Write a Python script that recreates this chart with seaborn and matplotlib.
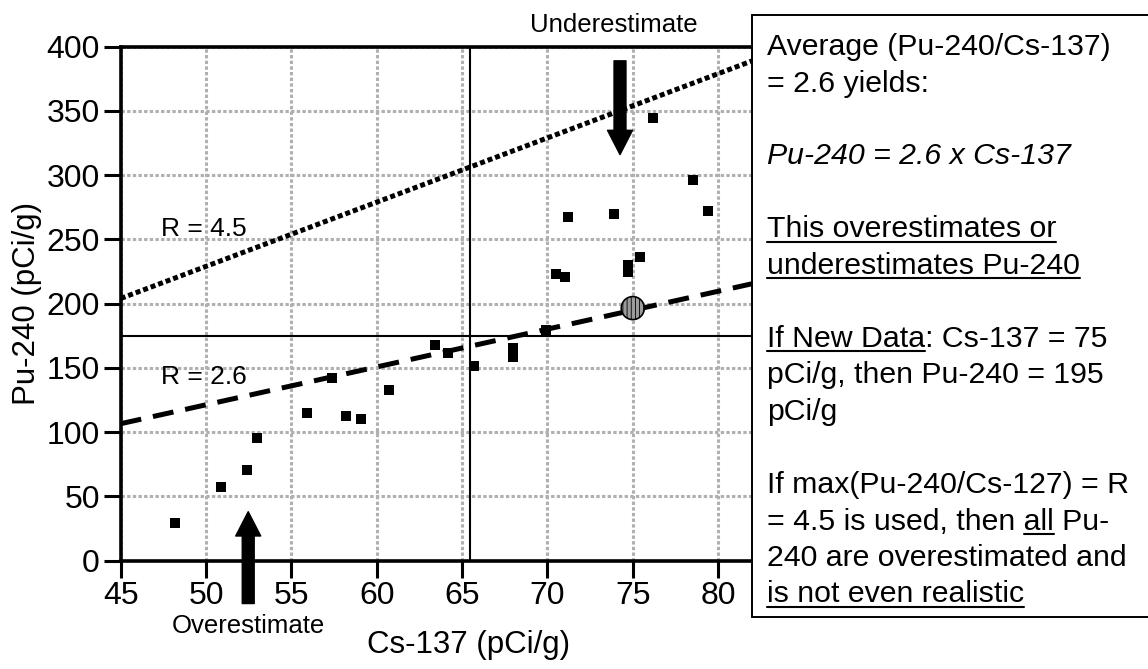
import matplotlib
matplotlib.use("Agg")
import matplotlib.pyplot as plt
import matplotlib.patches as mpatches
from matplotlib.lines import Line2D
import numpy as np
import pandas as pd
import seaborn as sns

# =========================
# DATA
# =========================
cs_137 = [48.2, 50.9, 52.4, 53.0, 55.9, 57.4, 58.2, 59.1, 60.7, 63.4, 64.2, 65.7,
          68.0, 68.0, 69.9, 70.5, 71.0, 71.2, 73.9, 74.7, 74.7, 75.4, 76.2, 78.5, 79.4]
pu_240 = [28.9, 57.3, 70.8, 95.3, 114.7, 141.8, 112.6, 110.3, 132.8, 168.0, 161.2, 151.8,
          165.4, 158.6, 179.3, 223.3, 220.9, 267.5, 269.4, 229.8, 224.8, 236.5, 344.8, 296.0, 271.9]

new_cs = [75.0]
new_pu = [196.5]

line_x = [45, 82]
avg_line_y = [106.5, 215.5]   # R = 2.6
max_line_y = [204.0, 389.0]   # R = 4.5

split_cs = 65.45
split_pu = 175

x_ticks = [45, 50, 55, 60, 65, 70, 75, 80]
y_ticks = [0, 50, 100, 150, 200, 250, 300, 350, 400]

box_lines = [
    "Average (Pu-240/Cs-137)",
    "= 2.6 yields:",
    "",
    "Pu-240 = 2.6 x Cs-137",
    "",
    "This overestimates or",
    "underestimates Pu-240",
    "",
    "If New Data: Cs-137 = 75",
    "pCi/g, then Pu-240 = 195",
    "pCi/g",
    "",
    "If max(Pu-240/Cs-127) = R",
    "= 4.5 is used, then all Pu-",
    "240 are overestimated and",
    "is not even realistic",
]
# (line index, prefix before the underlined word, underlined word)
underlines = [
    (5, "", "This overestimates or"),
    (6, "", "underestimates Pu-240"),
    (8, "", "If New Data"),
    (13, "= 4.5 is used, then ", "all"),
    (15, "", "is not even realistic"),
]
italic_lines = [3]

# =========================
# FIGURE
# =========================
W, H = 1148, 669
sns.set_theme(style="white")
plt.rcParams["font.family"] = ["Liberation Sans", "DejaVu Sans"]
plt.rcParams["text.color"] = "black"
plt.rcParams["axes.labelcolor"] = "black"
plt.rcParams["xtick.color"] = "black"
plt.rcParams["ytick.color"] = "black"
plt.rcParams["hatch.linewidth"] = 0.6
plt.rcParams["hatch.color"] = "black"

fig = plt.figure(figsize=(W / 100, H / 100), dpi=100)
ax = fig.add_axes([120.7 / W, 1 - 560.5 / H, 631.6 / W, 513.8 / H])

ax.grid(True, color="#b0b0b0", linewidth=2.2, linestyle=(0, (1.1, 0.75)))
ax.set_axisbelow(True)

ax.axvline(split_cs, color="black", lw=1.5, zorder=2)
ax.axhline(split_pu, color="black", lw=1.5, zorder=2)

ax.plot(line_x, max_line_y, color="black", lw=3.6, linestyle=(0, (1.0, 0.6)),
        dash_capstyle="butt", zorder=3)
ax.plot(line_x, avg_line_y, color="black", lw=3.6, linestyle=(0, (4.2, 2.4)),
        dash_capstyle="butt", zorder=3)

df = pd.DataFrame({"cs": cs_137, "pu": pu_240})
sns.scatterplot(data=df, x="cs", y="pu", marker="s", s=42, color="black",
                linewidth=0, ax=ax, zorder=4, legend=False)

sns.scatterplot(x=new_cs, y=new_pu, s=275, color="#9b9b9b", edgecolor="black",
                linewidth=1.2, hatch="||||", ax=ax, zorder=5, legend=False)

ax.set_xlim(45, 82)
ax.set_ylim(0, 400)
ax.set_xticks(x_ticks)
ax.set_yticks(y_ticks)
ax.tick_params(axis="both", which="major", direction="out", length=12, width=2.2,
               pad=3, labelsize=23, colors="black", left=True, bottom=True)
for side in ["left", "bottom", "top"]:
    ax.spines[side].set_linewidth(2.6)
    ax.spines[side].set_color("black")
ax.spines["right"].set_visible(False)

ax.set_xlabel("Cs-137 (pCi/g)", fontsize=22.5)
ax.xaxis.set_label_coords(0.55, -0.135)
ax.set_ylabel("Pu-240 (pCi/g)", fontsize=22.5)
ax.yaxis.set_label_coords(-0.125, 0.5)

ax.text(47.34, 258, "R = 4.5", fontsize=19, va="center", ha="left", zorder=6)
ax.text(47.34, 142.5, "R = 2.6", fontsize=19, va="center", ha="left", zorder=6)
ax.text(73.9, 417, "Underestimate", fontsize=18.5, va="center", ha="center", clip_on=False)
ax.text(52.47, -51, "Overestimate", fontsize=18.5, va="center", ha="center", clip_on=False)

arrow_style = "simple,head_length=1.75,head_width=1.8,tail_width=0.86"
ax.annotate("", xy=(74.25, 316), xytext=(74.25, 389), annotation_clip=False,
            arrowprops=dict(arrowstyle=arrow_style, mutation_scale=10, color="black",
                            shrinkA=0, shrinkB=0))
ax.annotate("", xy=(52.47, 38), xytext=(52.47, -33.5), annotation_clip=False,
            arrowprops=dict(arrowstyle=arrow_style, mutation_scale=10, color="black",
                            shrinkA=0, shrinkB=0))

# =========================
# TEXT BOX
# =========================
box = mpatches.Rectangle((752 / W, 1 - 617 / H), 0.5, (617 - 15) / H,
                         transform=fig.transFigure, facecolor="white",
                         edgecolor="black", lw=1.4, zorder=5)
fig.add_artist(box)

text_x = 767
first_base = 55
line_step = 36.5
box_texts = {}
for i, line in enumerate(box_lines):
    if not line:
        continue
    base = first_base + i * line_step
    t = fig.text(text_x / W, 1 - base / H, line, fontsize=21.8, ha="left", va="baseline",
                 style="italic" if i in italic_lines else "normal", zorder=6)
    box_texts[i] = (t, base)

fig.canvas.draw()
renderer = fig.canvas.get_renderer()
for i, prefix, word in underlines:
    t, base = box_texts[i]
    prop = t.get_fontproperties()
    x0 = t.get_window_extent(renderer).x0
    w_full = renderer.get_text_width_height_descent(prefix + word, prop, ismath=False)[0]
    w_word = renderer.get_text_width_height_descent(word, prop, ismath=False)[0]
    start = x0 + (w_full - w_word if prefix else 0)
    end = x0 + w_full
    y = H - base - 4
    fig.add_artist(Line2D([start / W, end / W], [y / H, y / H], transform=fig.transFigure,
                          color="black", lw=1.5, zorder=6))

fig.savefig("out.png", dpi=100)
